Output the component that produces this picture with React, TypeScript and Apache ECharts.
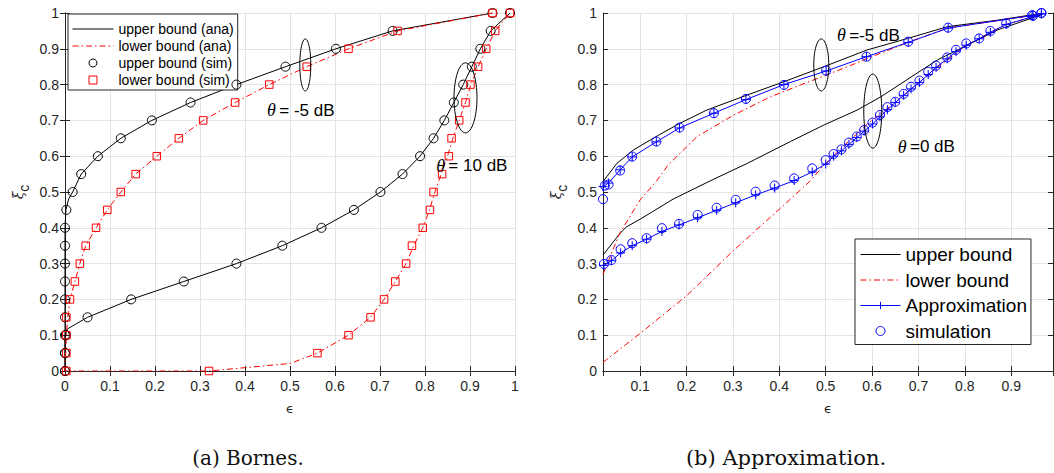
import React, { useEffect, useRef } from 'react';
import * as echarts from 'echarts';

// ---------- (a) Bornes : simulated points (epsilon at each xi_c level) ----------
const xiLevels = [0, 0.05, 0.1, 0.15, 0.2, 0.25, 0.3, 0.35, 0.4, 0.45, 0.5, 0.55, 0.6, 0.65, 0.7, 0.75, 0.8, 0.85, 0.9, 0.95, 1];
const simUpperM5Eps = [0, 0, 0, 0, 0, 0, 0, 0, 0, 0.003, 0.017, 0.036, 0.073, 0.124, 0.193, 0.279, 0.381, 0.49, 0.602, 0.728, 0.95];
const simLowerM5Eps = [0.003, 0.003, 0.003, 0.003, 0.011, 0.022, 0.033, 0.046, 0.069, 0.094, 0.124, 0.157, 0.204, 0.253, 0.307, 0.378, 0.454, 0.537, 0.63, 0.739, 0.95];
const simUpper10Eps = [0, 0, 0.002, 0.05, 0.147, 0.264, 0.381, 0.483, 0.57, 0.642, 0.701, 0.75, 0.789, 0.819, 0.843, 0.864, 0.885, 0.904, 0.923, 0.946, 0.989];
const simLower10Eps = [0.32, 0.561, 0.63, 0.679, 0.709, 0.734, 0.758, 0.771, 0.795, 0.811, 0.819, 0.838, 0.853, 0.859, 0.876, 0.89, 0.901, 0.918, 0.936, 0.956, 0.989];

// ---------- (a) Bornes : analytic curves [epsilon, xi_c] ----------
const anaUpperM5 = [[0, 0], [0, 0.4], [0.002, 0.45], [0.008, 0.48], [0.017, 0.5], [0.036, 0.55], [0.073, 0.6], [0.124, 0.65], [0.193, 0.7], [0.279, 0.75], [0.381, 0.8], [0.49, 0.85], [0.602, 0.9], [0.728, 0.95], [0.95, 1]];
const anaLowerM5 = [[0, 0], [0.003, 0.1], [0.006, 0.15], [0.011, 0.2], [0.022, 0.25], [0.033, 0.3], [0.046, 0.35], [0.069, 0.4], [0.094, 0.45], [0.124, 0.5], [0.157, 0.55], [0.204, 0.6], [0.253, 0.65], [0.307, 0.7], [0.378, 0.75], [0.454, 0.8], [0.537, 0.85], [0.63, 0.9], [0.739, 0.95], [0.95, 1]];
const anaUpper10 = [[0, 0], [0, 0.1], [0.006, 0.118], [0.05, 0.15], [0.147, 0.2], [0.264, 0.25], [0.381, 0.3], [0.483, 0.35], [0.57, 0.4], [0.642, 0.45], [0.701, 0.5], [0.75, 0.55], [0.789, 0.6], [0.819, 0.65], [0.843, 0.7], [0.864, 0.75], [0.885, 0.8], [0.904, 0.85], [0.923, 0.9], [0.946, 0.95], [0.989, 1]];
const anaLower10 = [[0, 0], [0.32, 0], [0.5, 0.021], [0.561, 0.05], [0.63, 0.1], [0.679, 0.15], [0.709, 0.2], [0.734, 0.25], [0.758, 0.3], [0.775, 0.35], [0.795, 0.4], [0.81, 0.45], [0.822, 0.5], [0.836, 0.55], [0.85, 0.6], [0.862, 0.65], [0.876, 0.7], [0.89, 0.75], [0.902, 0.8], [0.918, 0.85], [0.936, 0.9], [0.956, 0.95], [0.989, 1]];

// ---------- (b) Approximation [epsilon, xi_c] ----------
const bUpperM5 = [[0.02, 0.529], [0.05, 0.58], [0.085, 0.617], [0.14, 0.659], [0.186, 0.692], [0.244, 0.729], [0.331, 0.771], [0.41, 0.808], [0.496, 0.85], [0.59, 0.897], [0.677, 0.929], [0.763, 0.962], [0.871, 0.98], [0.965, 0.999]];
const bLowerM5 = [[0.02, 0.27], [0.056, 0.385], [0.1, 0.478], [0.135, 0.53], [0.16, 0.575], [0.223, 0.655], [0.302, 0.715], [0.381, 0.766], [0.446, 0.799], [0.496, 0.824], [0.547, 0.85], [0.59, 0.873], [0.677, 0.918], [0.764, 0.958], [0.945, 0.993], [0.965, 0.999]];
const bApproxM5 = [[0.02, 0.515], [0.032, 0.525], [0.057, 0.562], [0.083, 0.598], [0.135, 0.64], [0.185, 0.679], [0.259, 0.72], [0.328, 0.758], [0.41, 0.8], [0.501, 0.838], [0.588, 0.878], [0.678, 0.918], [0.764, 0.958], [0.945, 0.993], [0.965, 0.998]];
const bSimM5 = [[0.02, 0.48], [0.024, 0.518], [0.032, 0.521], [0.057, 0.56], [0.083, 0.599], [0.135, 0.641], [0.185, 0.68], [0.259, 0.72], [0.328, 0.76], [0.41, 0.799], [0.501, 0.839], [0.588, 0.878], [0.678, 0.92], [0.764, 0.959], [0.945, 0.994], [0.965, 1.0]];

const bUpper0 = [[0.02, 0.324], [0.057, 0.385], [0.071, 0.403], [0.1, 0.424], [0.171, 0.48], [0.251, 0.531], [0.331, 0.58], [0.424, 0.641], [0.496, 0.687], [0.568, 0.729], [0.619, 0.766], [0.691, 0.827], [0.741, 0.869], [0.799, 0.906], [0.871, 0.953], [0.965, 0.995]];
const bLower0 = [[0.02, 0.024], [0.1, 0.105], [0.2, 0.21], [0.3, 0.335], [0.4, 0.452], [0.466, 0.53], [0.496, 0.575], [0.54, 0.63], [0.59, 0.69], [0.65, 0.75], [0.721, 0.828], [0.803, 0.91], [0.889, 0.968], [0.965, 0.997]];
const bApprox0 = [[0.022, 0.295], [0.038, 0.308], [0.058, 0.33], [0.083, 0.35], [0.114, 0.368], [0.147, 0.39], [0.184, 0.408], [0.224, 0.428], [0.265, 0.449], [0.306, 0.47], [0.349, 0.492], [0.39, 0.511], [0.432, 0.532], [0.471, 0.556], [0.5, 0.578], [0.517, 0.6], [0.534, 0.615], [0.55, 0.633], [0.567, 0.652], [0.583, 0.67], [0.601, 0.69], [0.617, 0.71], [0.633, 0.73], [0.65, 0.75], [0.668, 0.77], [0.684, 0.788], [0.702, 0.806], [0.721, 0.828], [0.738, 0.848], [0.762, 0.872], [0.781, 0.892], [0.803, 0.91], [0.831, 0.928], [0.855, 0.946], [0.889, 0.968], [0.947, 0.99], [0.965, 0.997]];
const bSim0 = [[0.022, 0.299], [0.038, 0.31], [0.058, 0.34], [0.083, 0.357], [0.114, 0.371], [0.147, 0.399], [0.184, 0.411], [0.224, 0.436], [0.265, 0.456], [0.306, 0.478], [0.349, 0.501], [0.39, 0.518], [0.432, 0.538], [0.471, 0.566], [0.5, 0.589], [0.517, 0.606], [0.534, 0.619], [0.55, 0.638], [0.567, 0.655], [0.583, 0.673], [0.601, 0.694], [0.617, 0.715], [0.633, 0.737], [0.65, 0.752], [0.668, 0.774], [0.684, 0.794], [0.702, 0.811], [0.721, 0.836], [0.738, 0.853], [0.762, 0.876], [0.781, 0.897], [0.803, 0.915], [0.831, 0.929], [0.855, 0.95], [0.889, 0.971], [0.947, 0.992], [0.965, 1.0]];

// legend names
const leftNames = ['upper bound (ana)', 'lower bound (ana)', 'upper bound (sim)', 'lower bound (sim)'];
const rightNames = ['upper bound', 'lower bound', 'Approximation', 'simulation'];
const captions = ['(a) Bornes.', '(b) Approximation.'];

// annotations anchored in data coordinates
const notes = [
  { grid: 0, text: '= -5 dB', at: [0.524, 0.729] },
  { grid: 0, text: '= 10 dB', at: [0.904, 0.573] },
  { grid: 1, text: '=-5 dB', at: [0.592, 0.9385] },
  { grid: 1, text: '=0 dB', at: [0.717, 0.626] },
];
const ellipses = [
  { grid: 0, at: [0.534, 0.855], rx: 5.5, ry: 26 },
  { grid: 0, at: [0.89, 0.763], rx: 11.5, ry: 35 },
  { grid: 1, at: [0.4905, 0.855], rx: 7.5, ry: 26 },
  { grid: 1, at: [0.6015, 0.726], rx: 9, ry: 37 },
];

const AX = '#262626';
const GRIDC = '#e3e3e3';
const SANS = 'Liberation Sans, Arial, sans-serif';
const RED = '#ff0000';
const BLUE = '#0000ff';
const DASHDOT = [6, 3, 1.5, 3];
const PLUS = 'path://M5,0 L5,10 M0,5 L10,5';
const SQUARE = 'path://M0,0 L10,0 L10,10 L0,10 Z';

function zipEps(eps: number[]) {
  return eps.map((e, i) => [e, xiLevels[i]]);
}

function mainX(gridIndex: number, min: number, max: number, fixed: boolean) {
  const base: any = {
    type: 'value', gridIndex, min, max, position: 'bottom',
    axisLine: { show: true, lineStyle: { color: AX, width: 1 } },
    axisTick: { show: true, inside: true, length: 5, lineStyle: { color: AX } },
    axisLabel: { show: true, color: AX, fontSize: 14, fontFamily: SANS, margin: 8, showMinLabel: fixed, showMaxLabel: fixed },
    splitLine: { show: true, lineStyle: { color: GRIDC, width: 1 } },
    name: 'ϵ', nameLocation: 'middle', nameGap: 31,
    nameTextStyle: { fontSize: 13, fontFamily: 'DejaVu Sans', color: '#222' },
  };
  if (fixed) base.interval = 0.1; else { base.minInterval = 0.1; base.maxInterval = 0.1; base.splitNumber = 10; }
  return base;
}
function topX(gridIndex: number, min: number, max: number, fixed: boolean) {
  const base: any = {
    type: 'value', gridIndex, min, max, position: 'top',
    axisLine: { show: true, lineStyle: { color: AX, width: 1 } },
    axisTick: { show: true, inside: true, length: 5, lineStyle: { color: AX } },
    axisLabel: { show: false }, splitLine: { show: false },
  };
  if (fixed) base.interval = 0.1; else { base.minInterval = 0.1; base.maxInterval = 0.1; base.splitNumber = 10; }
  return base;
}
function leftY(gridIndex: number, gap: number) {
  return {
    type: 'value', gridIndex, min: 0, max: 1, interval: 0.1, position: 'left',
    axisLine: { show: true, lineStyle: { color: AX, width: 1 } },
    axisTick: { show: true, inside: true, length: 5, lineStyle: { color: AX } },
    axisLabel: { color: AX, fontSize: 14, fontFamily: SANS, margin: 6 },
    splitLine: { show: true, lineStyle: { color: GRIDC, width: 1 } },
    name: '{a|ξ}{b|c}', nameLocation: 'middle', nameGap: gap, nameRotate: 90,
    nameTextStyle: {
      color: '#222',
      rich: {
        a: { fontSize: 14, fontFamily: 'DejaVu Serif', fontStyle: 'italic', padding: [0, 0, 6, 0], color: '#222' },
        b: { fontSize: 14, fontFamily: SANS, padding: [6, 0, 0, 0], color: '#222' },
      },
    },
  };
}
function rightY(gridIndex: number) {
  return {
    type: 'value', gridIndex, min: 0, max: 1, interval: 0.1, position: 'right',
    axisLine: { show: true, lineStyle: { color: AX, width: 1 } },
    axisTick: { show: true, inside: true, length: 5, lineStyle: { color: AX } },
    axisLabel: { show: false }, splitLine: { show: false },
  };
}

function lineS(name: string, data: any[], xi: number, color: string, dashed: boolean, symbol = 'none', z = 3) {
  return {
    type: 'line', name, data, xAxisIndex: xi, yAxisIndex: xi,
    symbol, symbolSize: 9, showSymbol: symbol !== 'none',
    lineStyle: { color, width: 1, type: dashed ? DASHDOT : 'solid' },
    itemStyle: { color, borderColor: color, borderWidth: 1 },
    z, silent: true, clip: true,
  };
}
function scatS(name: string, data: any[], xi: number, color: string, symbol: string, size: number) {
  return {
    type: 'scatter', name, data, xAxisIndex: xi, yAxisIndex: xi,
    symbol, symbolSize: size,
    itemStyle: { color: 'rgba(255,255,255,0)', borderColor: color, borderWidth: 1, opacity: 1 },
    z: 4, silent: true,
  };
}

const hideSym = { opacity: 0 };

export default function App() {
  const ref = useRef<HTMLDivElement>(null);
  useEffect(() => {
    document.body.style.margin = '0';
    const chart = echarts.init(ref.current!, null, { renderer: 'svg' });
    const option: any = {
      animation: false,
      backgroundColor: '#ffffff',
      grid: [
        { left: 65, top: 13, width: 450, height: 358 },
        { left: 603, top: 13, width: 450, height: 358 },
      ],
      xAxis: [mainX(0, 0, 1, true), topX(0, 0, 1, true), mainX(1, 0.02, 0.99, false), topX(1, 0.02, 0.99, false)],
      yAxis: [leftY(0, 34), rightY(0), leftY(1, 34), rightY(1)],
      legend: [
        {
          data: [
            { name: leftNames[0], itemStyle: hideSym },
            { name: leftNames[1], itemStyle: hideSym },
            { name: leftNames[2] },
            { name: leftNames[3] },
          ],
          orient: 'vertical', left: 68, top: 14, selectedMode: false,
          padding: [8, 4, 3, 4], itemGap: 3, itemWidth: 41, itemHeight: 8,
          backgroundColor: '#fff', borderColor: AX, borderWidth: 1,
          textStyle: { fontSize: 14, fontFamily: SANS, color: '#000' },
          itemStyle: { borderWidth: 1 },
          lineStyle: { width: 1 },
        },
        {
          data: [
            { name: rightNames[0], itemStyle: hideSym },
            { name: rightNames[1], itemStyle: hideSym },
            { name: rightNames[2] },
            { name: rightNames[3] },
          ],
          orient: 'vertical', left: 855, top: 239, selectedMode: false,
          padding: [6, 4, 4, 5], itemGap: 6.5, itemWidth: 40, itemHeight: 9,
          backgroundColor: '#fff', borderColor: AX, borderWidth: 1,
          textStyle: { fontSize: 19, fontFamily: SANS, color: '#000' },
          itemStyle: { borderWidth: 1 },
          lineStyle: { width: 1 },
        },
      ],
      series: [
        lineS(leftNames[0], anaUpperM5, 0, '#000', false),
        lineS(leftNames[0], anaUpper10, 0, '#000', false),
        lineS(leftNames[1], anaLowerM5, 0, RED, true),
        lineS(leftNames[1], anaLower10, 0, RED, true),
        scatS(leftNames[2], zipEps(simUpperM5Eps), 0, '#000', 'circle', 9),
        scatS(leftNames[2], zipEps(simUpper10Eps), 0, '#000', 'circle', 9),
        scatS(leftNames[3], zipEps(simLowerM5Eps), 0, RED, SQUARE, 7.5),
        scatS(leftNames[3], zipEps(simLower10Eps), 0, RED, SQUARE, 7.5),

        lineS(rightNames[0], bUpperM5, 2, '#000', false),
        lineS(rightNames[0], bUpper0, 2, '#000', false),
        lineS(rightNames[1], bLowerM5, 2, RED, true),
        lineS(rightNames[1], bLower0, 2, RED, true),
        lineS(rightNames[2], bApproxM5, 2, BLUE, false, PLUS, 5),
        lineS(rightNames[2], bApprox0, 2, BLUE, false, PLUS, 5),
        scatS(rightNames[3], bSimM5, 2, BLUE, 'circle', 9),
        scatS(rightNames[3], bSim0, 2, BLUE, 'circle', 9),
      ],
    };
    chart.setOption(option);

    const elements: any[] = [];
    ellipses.forEach((e) => {
      const p = chart.convertToPixel({ gridIndex: e.grid }, e.at) as number[];
      elements.push({
        type: 'ellipse', shape: { cx: p[0], cy: p[1], rx: e.rx, ry: e.ry },
        style: { fill: 'none', stroke: '#000', lineWidth: 1 }, z: 10, silent: true,
      });
    });
    notes.forEach((n) => {
      const p = chart.convertToPixel({ gridIndex: n.grid }, n.at) as number[];
      elements.push({
        type: 'text', x: p[0], y: p[1], z: 10, silent: true,
        style: {
          text: '{t|θ} {r|' + n.text + '}', align: 'center', verticalAlign: 'middle',
          rich: {
            t: { fontSize: 18, fontFamily: 'Liberation Serif', fontStyle: 'italic', fill: '#000' },
            r: { fontSize: 17, fontFamily: SANS, fill: '#000' },
          },
        },
      });
    });
    const c0 = chart.convertToPixel({ gridIndex: 0 }, [0.5, 0]) as number[];
    const c1 = chart.convertToPixel({ gridIndex: 1 }, [0.505, 0]) as number[];
    [c0, c1].forEach((c, i) => {
      elements.push({
        type: 'text', x: c[0] - 42, y: 458, silent: true,
        style: { text: captions[i], fontSize: i === 0 ? 20 : 21, fontFamily: 'DejaVu Serif', fill: '#111', align: 'center', verticalAlign: 'middle' },
      });
    });
    chart.setOption({ graphic: { elements } });
    return () => chart.dispose();
  }, []);
  return <div ref={ref} style={{ width: 1054, height: 473 }} />;
}
